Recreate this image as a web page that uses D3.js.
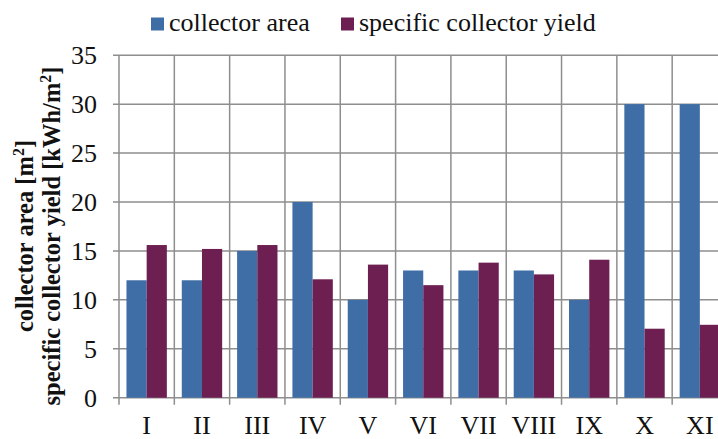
<!DOCTYPE html>
<html>
<head>
<meta charset="utf-8">
<script src="https://cdn.jsdelivr.net/npm/d3@7"></script>
<style>
  body { margin: 0; background: #fff; }
</style>
</head>
<body>
<div id="scene"></div>
<script>
var categories = ["I", "II", "III", "IV", "V", "VI", "VII", "VIII", "IX", "X", "XI"];
var collectorArea = [12, 12, 15, 20, 10, 13, 13, 13, 10, 30, 30];
var specificYield = [15.6, 15.2, 15.6, 12.1, 13.6, 11.5, 13.8, 12.6, 14.1, 7.05, 7.45];
var yTicks = [0, 5, 10, 15, 20, 25, 30, 35];
var seriesNames = ["collector area", "specific collector yield"];
var seriesColors = ["#3F6EA7", "#6E1F51"];

var w = 718, h = 439;
var font = "Liberation Serif, Times New Roman, serif";
var plot = { left: 119, right: 727.5, top: 55.2, bottom: 397.7 };

var svg = d3.select("#scene").append("svg")
  .attr("width", w)
  .attr("height", h)
  .attr("font-family", font);

var x = d3.scaleBand()
  .domain(categories)
  .range([plot.left, plot.right]);

var xInner = d3.scaleBand()
  .domain([0, 1])
  .range([0, x.bandwidth()])
  .paddingOuter(0.37)
  .paddingInner(0);

var y = d3.scaleLinear()
  .domain([0, 35])
  .range([plot.bottom, plot.top]);

var gridColor = "#8E8E8E";

// horizontal gridlines + left ticks
svg.append("g").selectAll("line")
  .data(yTicks)
  .enter().append("line")
  .attr("x1", plot.left - 6)
  .attr("x2", w)
  .attr("y1", function(d) { return y(d); })
  .attr("y2", function(d) { return y(d); })
  .attr("stroke", gridColor)
  .attr("stroke-width", 1.5);

// vertical gridlines on category boundaries, running down into ticks
var bounds = categories.map(function(c) { return x(c); }).concat([plot.right]);
svg.append("g").selectAll("line")
  .data(bounds)
  .enter().append("line")
  .attr("x1", function(d) { return d; })
  .attr("x2", function(d) { return d; })
  .attr("y1", plot.top)
  .attr("y2", plot.bottom + 7)
  .attr("stroke", gridColor)
  .attr("stroke-width", 1.5);

// bars
var series = [collectorArea, specificYield];
series.forEach(function(vals, s) {
  svg.append("g").selectAll("rect")
    .data(vals)
    .enter().append("rect")
    .attr("x", function(d, i) { return x(categories[i]) + xInner(s); })
    .attr("width", xInner.bandwidth())
    .attr("y", function(d) { return y(d); })
    .attr("height", function(d) { return y(0) - y(d); })
    .attr("fill", seriesColors[s]);
});

// y tick labels
svg.append("g").selectAll("text")
  .data(yTicks)
  .enter().append("text")
  .attr("x", 97)
  .attr("y", function(d) { return y(d) + 9; })
  .attr("text-anchor", "end")
  .attr("font-size", 26)
  .attr("fill", "#111")
  .text(function(d) { return d; });

// x labels
svg.append("g").selectAll("text")
  .data(categories)
  .enter().append("text")
  .attr("x", function(d) { return x(d) + x.bandwidth() / 2; })
  .attr("y", 434)
  .attr("text-anchor", "middle")
  .attr("font-size", 26)
  .attr("fill", "#111")
  .text(function(d) { return d; });

// y axis title, two lines
var cy = 236;
function axisTitle(xPos, label) {
  var t = svg.append("text")
    .attr("transform", "translate(" + xPos + "," + cy + ") rotate(-90)")
    .attr("text-anchor", "middle")
    .attr("font-size", 24.5)
    .attr("font-weight", "bold")
    .attr("fill", "#111");
  t.append("tspan").text(label);
  t.append("tspan").attr("dy", -9).attr("font-size", 16).text("2");
  t.append("tspan").attr("dy", 9).text("]");
}
axisTitle(33, "collector area [m");
axisTitle(60, "specific collector yield [kWh/m");

// legend
var legendX = [151, 341];
var legend = svg.append("g");
seriesNames.forEach(function(name, i) {
  legend.append("rect")
    .attr("x", legendX[i])
    .attr("y", 17.5)
    .attr("width", 13)
    .attr("height", 13)
    .attr("fill", seriesColors[i]);
  legend.append("text")
    .attr("x", legendX[i] + 18)
    .attr("y", 31)
    .attr("font-size", 26)
    .attr("fill", "#111")
    .text(name);
});
</script>
</body>
</html>
